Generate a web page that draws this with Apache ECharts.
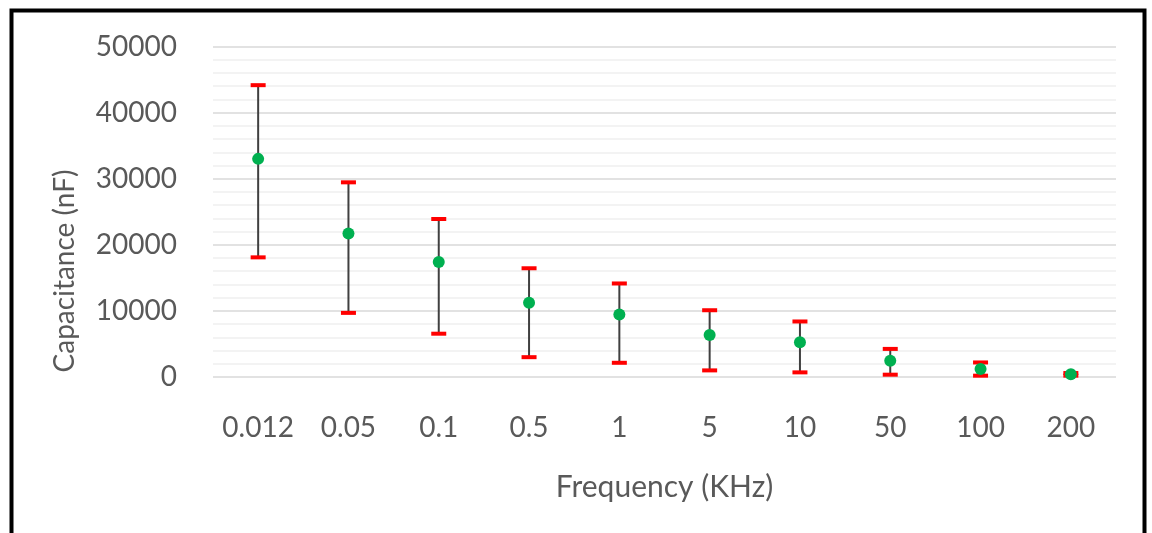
<!DOCTYPE html>
<html>
<head>
<meta charset="utf-8">
<script src="https://cdn.jsdelivr.net/npm/echarts@6/dist/echarts.min.js"></script>
<style>
html,body{margin:0;padding:0;background:#fff;}
#chart{width:1152px;height:533px;}
</style>
</head>
<body>
<div id="chart"></div>
<script>
const categories = ['0.012','0.05','0.1','0.5','1','5','10','50','100','200'];
const meanValues = [33000, 21700, 17400, 11250, 9450, 6350, 5250, 2450, 1200, 400];
const upperValues = [44150, 29450, 23900, 16450, 14150, 10100, 8400, 4250, 2200, 600];
const lowerValues = [18100, 9700, 6550, 3000, 2150, 1000, 700, 350, 200, 200];
const yTicks = [0, 10000, 20000, 30000, 40000, 50000];

const chart = echarts.init(document.getElementById('chart'));
const font = 'Lato, "Open Sans", sans-serif';
const txt = '#595959';

const errData = categories.map((c, i) => [i, lowerValues[i], upperValues[i]]);

chart.setOption({
  animation: false,
  backgroundColor: '#fff',
  graphic: [
    {
      type: 'rect',
      shape: {x: 11.5, y: 10.5, width: 1133, height: 600},
      style: {fill: 'none', stroke: '#000', lineWidth: 4},
      z: 100
    },
    {
      type: 'text',
      x: 65, y: 271,
      rotation: Math.PI / 2,
      style: {text: 'Capacitance (nF)', fill: txt, font: '28px ' + font, align: 'center', verticalAlign: 'middle'}
    }
  ],
  grid: {left: 213, right: 36, top: 46.5, bottom: 156},
  xAxis: {
    type: 'category',
    data: categories,
    axisLine: {show: false},
    axisTick: {show: false},
    axisLabel: {color: txt, fontSize: 28, fontFamily: font, margin: 37, interval: 0},
    name: 'Frequency (KHz)',
    nameLocation: 'middle',
    nameGap: 95,
    nameTextStyle: {color: txt, fontSize: 30, fontFamily: font}
  },
  yAxis: {
    type: 'value',
    min: yTicks[0],
    max: yTicks[yTicks.length - 1],
    interval: 10000,
    axisLine: {show: false},
    axisTick: {show: false},
    axisLabel: {color: txt, fontSize: 28, fontFamily: font, margin: 36, formatter: v => String(v)},
    splitLine: {lineStyle: {color: '#d9d9d9', width: 1.5}},
    minorTick: {show: false, splitNumber: 5},
    minorSplitLine: {show: true, lineStyle: {color: '#f0f0f0', width: 1.5}}
  },
  series: [
    {
      type: 'custom',
      data: errData,
      z: 3,
      renderItem: function (params, api) {
        const x = api.value(0);
        const lo = api.coord([x, api.value(1)]);
        const hi = api.coord([x, api.value(2)]);
        const hw = 7.5;
        return {
          type: 'group',
          children: [
            {type: 'line', shape: {x1: lo[0], y1: lo[1], x2: hi[0], y2: hi[1]}, style: {stroke: '#404040', lineWidth: 2}},
            {type: 'line', shape: {x1: hi[0] - hw, y1: hi[1], x2: hi[0] + hw, y2: hi[1]}, style: {stroke: '#ff0000', lineWidth: 4}},
            {type: 'line', shape: {x1: lo[0] - hw, y1: lo[1], x2: lo[0] + hw, y2: lo[1]}, style: {stroke: '#ff0000', lineWidth: 4}}
          ]
        };
      }
    },
    {
      type: 'scatter',
      data: meanValues,
      symbol: 'circle',
      symbolSize: 12,
      itemStyle: {color: '#00b050', opacity: 1},
      z: 5
    }
  ]
});
</script>
</body>
</html>
